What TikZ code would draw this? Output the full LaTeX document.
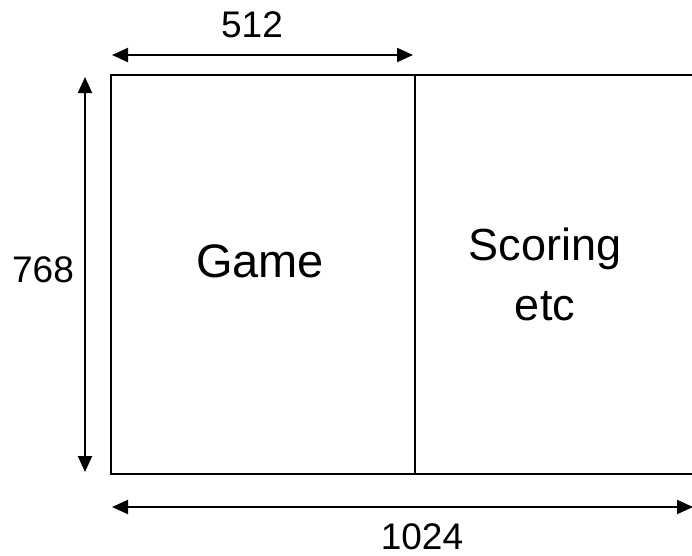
\documentclass[tikz,border=0pt]{standalone}
\usepackage{fontspec}
\setmainfont{Liberation Sans}
\usetikzlibrary{arrows.meta}
\begin{document}
\begin{tikzpicture}[x=1pt,y=-1pt,
  frame/.style={line width=2pt,black},
  dimarrow/.style={line width=2pt,{Triangle[length=16pt,width=14pt]}-{Triangle[length=16pt,width=14pt]}},
  bigtext/.style={font=\fontsize{47}{60}\selectfont,inner sep=0pt,align=center},
  scoretext/.style={font=\fontsize{45}{60}\selectfont,inner sep=0pt,align=center},
  numtext/.style={font=\fontsize{37}{40}\selectfont,inner sep=0pt}]
\useasboundingbox (0,0) rectangle (692,555);
\clip (0,0) rectangle (692,555);
% frame
\coordinate (tl) at (111,75);
\coordinate (tr) at (700,75);
\coordinate (bl) at (111,474);
\coordinate (br) at (700,474);
\coordinate (mt) at (415,75);
\coordinate (mb) at (415,474);
\draw[frame] (tr) -- (tl) -- (bl) -- (br);
\draw[frame] (mt) -- (mb);
% dimension arrows
\coordinate (a1) at (112,55);
\coordinate (a2) at (413,55);
\draw[dimarrow] (a1) -- (a2);
\coordinate (v1) at (85,77);
\coordinate (v2) at (85,472);
\draw[dimarrow] (v1) -- (v2);
\coordinate (h1) at (112,507);
\coordinate (h2) at (693,507);
\draw[dimarrow] (h1) -- (h2);
% labels
\node[numtext,anchor=base] (w512) at (252,37) {512};
\node[numtext,anchor=base] (h768) at (43,282) {768};
\node[numtext,anchor=base] (w1024) at (422,549) {1024};
\node[bigtext,anchor=base] (game) at (260,277) {Game};
\node[scoretext,anchor=base] (score) at (545,320) {Scoring\\etc};
\end{tikzpicture}
\end{document}
